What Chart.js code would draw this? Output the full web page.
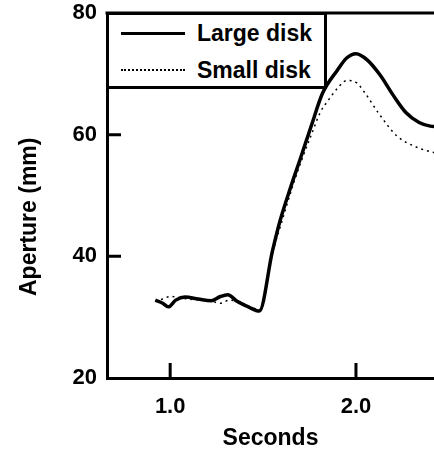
<!DOCTYPE html>
<html>
<head>
<meta charset="utf-8">
<script src="https://cdn.jsdelivr.net/npm/chart.js@4.4.0/dist/chart.umd.min.js"></script>
<style>
html, body { margin: 0; padding: 0; background: #fff; overflow: hidden; }
#wrap { position: relative; width: 434px; height: 456px; }
#legend { position: absolute; left: 106px; top: 12px; width: 215px; height: 71px;
  border: 3px solid #000; background: #fff;
  font: bold 23px "Liberation Sans", Arial, sans-serif; color: #000; }
.row { position: absolute; left: 0; height: 30px; display: flex; align-items: center; white-space: nowrap; }
.swatch { width: 64px; margin-left: 12px; margin-right: 12px; height: 0; }
</style>
</head>
<body>
<div id="wrap">
  <canvas id="chart" width="434" height="456"></canvas>
  <div id="legend"></div>
</div>
<script>
// Large disk (solid) — seconds / aperture in mm
var largeSec = [0.92, 0.96, 0.99, 1.03, 1.08, 1.15, 1.22, 1.27, 1.31, 1.36, 1.42, 1.48,
                1.55, 1.59, 1.65, 1.70, 1.76, 1.82, 1.90, 1.95, 2.00, 2.06, 2.13, 2.20, 2.27, 2.34, 2.40, 2.45];
var largeVal = [32.8, 32.3, 31.7, 32.8, 33.3, 33.0, 32.7, 33.4, 33.7, 32.6, 31.7, 31.0,
                40.8, 45.7, 51.5, 56.0, 61.5, 66.8, 70.6, 72.6, 73.3, 72.3, 69.8, 66.5, 63.6, 62.0, 61.4, 61.3];

// Small disk (dotted)
var smallSec = [0.92, 0.96, 1.00, 1.05, 1.12, 1.20, 1.27, 1.32, 1.38, 1.44, 1.48,
                1.55, 1.60, 1.66, 1.71, 1.76, 1.81, 1.85, 1.90, 1.95, 2.00, 2.05, 2.12, 2.22, 2.33, 2.40, 2.45];
var smallVal = [32.6, 33.0, 33.4, 33.2, 32.9, 32.8, 32.3, 32.8, 32.4, 31.6, 31.2,
                40.5, 45.6, 51.6, 56.0, 60.0, 63.8, 65.6, 67.6, 68.9, 68.6, 66.8, 63.6, 59.8, 57.9, 57.2, 56.9];

var xTicks = [1.0, 2.0];
var yTicks = [20, 40, 60, 80];
var seriesNames = ['Large disk', 'Small disk'];
var yTitle = 'Aperture (mm)';

function toPoints(xs, ys) {
  var pts = [];
  for (var i = 0; i < xs.length; i++) pts.push({x: xs[i], y: ys[i]});
  return pts;
}

var fontFamily = '"Liberation Sans", Arial, sans-serif';
var font = {family: fontFamily, weight: 'bold', size: 22};

// top frame line, tick marks pointing into the plot, and the y title placed like the original
var frameAndTicks = {
  id: 'frameAndTicks',
  afterDraw: function(chart) {
    var ctx = chart.ctx, a = chart.chartArea;
    var xs = chart.scales.x, ys = chart.scales.y;
    ctx.save();
    ctx.strokeStyle = '#000';
    ctx.lineWidth = 3;
    ctx.beginPath();
    ctx.moveTo(a.left - 1.5, a.top); ctx.lineTo(a.right, a.top);
    xTicks.forEach(function(v) {
      var px = xs.getPixelForValue(v);
      ctx.moveTo(px, a.bottom); ctx.lineTo(px, a.bottom - 15);
    });
    yTicks.slice(1, -1).forEach(function(v) {
      var py = ys.getPixelForValue(v);
      ctx.moveTo(a.left, py); ctx.lineTo(a.left + 14, py);
    });
    ctx.stroke();

    ctx.translate(30, ys.getPixelForValue(46.5));
    ctx.rotate(-Math.PI / 2);
    ctx.fillStyle = '#000';
    ctx.font = 'bold 23px ' + fontFamily;
    ctx.textAlign = 'center';
    ctx.textBaseline = 'middle';
    ctx.fillText(yTitle, 0, 0);
    ctx.restore();
  }
};

var ctx = document.getElementById('chart').getContext('2d');
var chart = new Chart(ctx, {
  type: 'line',
  data: {
    datasets: [
      {
        label: seriesNames[0],
        data: toPoints(largeSec, largeVal),
        borderColor: '#000',
        borderWidth: 3.5,
        pointRadius: 0,
        cubicInterpolationMode: 'monotone'
      },
      {
        label: seriesNames[1],
        data: toPoints(smallSec, smallVal),
        borderColor: '#000',
        borderWidth: 1.5,
        borderDash: [2, 4],
        pointRadius: 0,
        cubicInterpolationMode: 'monotone'
      }
    ]
  },
  options: {
    responsive: false,
    animation: false,
    devicePixelRatio: 1,
    layout: {padding: {top: 13, left: 0, right: 0, bottom: 0}, autoPadding: false},
    plugins: {legend: {display: false}, tooltip: {enabled: false}},
    scales: {
      x: {
        type: 'linear',
        min: 0.66,
        max: 2.42,
        afterBuildTicks: function(scale) {
          scale.ticks = xTicks.map(function(v) { return {value: v}; });
        },
        afterFit: function(scale) {
          scale.height = 78;
          scale.paddingLeft = 0; scale.paddingRight = 0;
        },
        grid: {display: false, drawTicks: false},
        border: {color: '#000', width: 3},
        ticks: {
          color: '#000', font: font, padding: 16, maxRotation: 0,
          callback: function(v) { return v.toFixed(1); }
        },
        title: {display: true, text: 'Seconds', color: '#000',
                font: {family: fontFamily, weight: 'bold', size: 23}, padding: {top: 4, bottom: 4}}
      },
      y: {
        min: 20,
        max: 80,
        afterBuildTicks: function(scale) {
          scale.ticks = yTicks.map(function(v) { return {value: v}; });
        },
        afterFit: function(scale) {
          scale.width = 107;
          scale.paddingTop = 0; scale.paddingBottom = 0;
        },
        grid: {display: false, drawTicks: false},
        border: {color: '#000', width: 3},
        ticks: {color: '#000', font: font, padding: 10}
      }
    }
  },
  plugins: [frameAndTicks]
});

// legend drawn inside the plot's top-left corner
var legendEl = document.getElementById('legend');
chart.data.datasets.forEach(function(ds, i) {
  var row = document.createElement('div');
  row.className = 'row';
  row.style.top = (3 + i * 37) + 'px';
  var sw = document.createElement('span');
  sw.className = 'swatch';
  sw.style.borderTop = i === 0 ? '3px solid #000' : '2px dotted #000';
  row.appendChild(sw);
  var label = document.createElement('span');
  label.textContent = ds.label;
  row.appendChild(label);
  legendEl.appendChild(row);
});
</script>
</body>
</html>
